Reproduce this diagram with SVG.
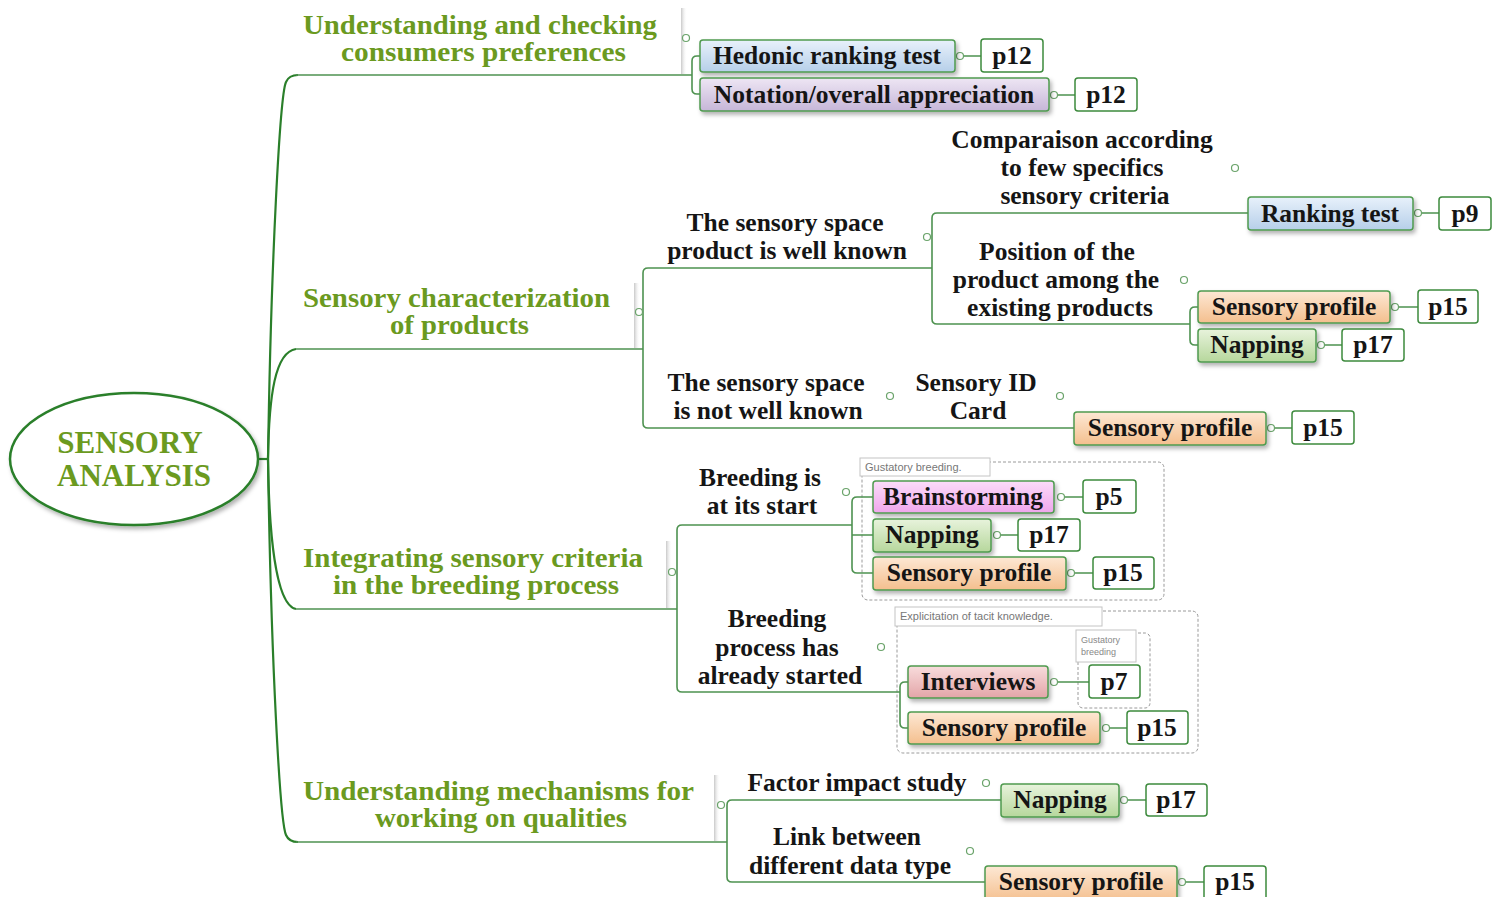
<svg xmlns="http://www.w3.org/2000/svg" width="1501" height="897" viewBox="0 0 1501 897">
<style>
.hd{font-family:"Liberation Serif",serif;font-weight:bold;font-size:27px;fill:#6b9a1f;text-anchor:middle}
.ct{font-family:"Liberation Serif",serif;font-weight:bold;font-size:31px;fill:#6b9a1f;text-anchor:middle}
.lb{font-family:"Liberation Serif",serif;font-weight:bold;font-size:25.5px;fill:#151515;text-anchor:middle}
.trunk{fill:none;stroke:#2a7f2a;stroke-width:2.2}
.conn{fill:none;stroke:#4e9250;stroke-width:1.6}
.dot{fill:#fff;stroke:#6aa36a;stroke-width:1.2}
.box{stroke:#4f9a4f;stroke-width:1.5;filter:url(#sh)}
.pbox{fill:#fff;stroke:#3d8a3d;stroke-width:1.5}
.grp{fill:none;stroke:#9a9a9a;stroke-width:1;stroke-dasharray:3 2}
.glab{fill:#fff;stroke:#c4c4c4;stroke-width:1}
.gt{font-family:"Liberation Sans",sans-serif;font-size:11px;fill:#777}
.gs{font-family:"Liberation Sans",sans-serif;font-size:9px;fill:#888}
.bar{fill:url(#barg)}
</style>
<defs>
<filter id="sh" x="-10%" y="-20%" width="130%" height="160%"><feDropShadow dx="2" dy="3" stdDeviation="2" flood-color="#000" flood-opacity="0.3"/></filter>
<linearGradient id="gBlue" x1="0" y1="0" x2="0" y2="1"><stop offset="0" stop-color="#e8f1fb"/><stop offset="1" stop-color="#b6cfe9"/></linearGradient>
<linearGradient id="gLav" x1="0" y1="0" x2="0" y2="1"><stop offset="0" stop-color="#eee6f4"/><stop offset="1" stop-color="#c6b6d8"/></linearGradient>
<linearGradient id="gOr" x1="0" y1="0" x2="0" y2="1"><stop offset="0" stop-color="#fde8d4"/><stop offset="1" stop-color="#f4bf8e"/></linearGradient>
<linearGradient id="gGr" x1="0" y1="0" x2="0" y2="1"><stop offset="0" stop-color="#e8f3dc"/><stop offset="1" stop-color="#b6d79c"/></linearGradient>
<linearGradient id="gPk" x1="0" y1="0" x2="0" y2="1"><stop offset="0" stop-color="#fbdcf9"/><stop offset="1" stop-color="#efa6ec"/></linearGradient>
<linearGradient id="gRd" x1="0" y1="0" x2="0" y2="1"><stop offset="0" stop-color="#f8dcdc"/><stop offset="1" stop-color="#e3a5a8"/></linearGradient>
<linearGradient id="barg" x1="0" y1="0" x2="1" y2="0"><stop offset="0" stop-color="#c8c8c8"/><stop offset="1" stop-color="#ffffff" stop-opacity="0"/></linearGradient>
</defs>

<!-- heading shadow bars -->
<g id="shadows">
<rect class="bar" x="681" y="8" width="6" height="66"/>
<rect class="bar" x="634" y="283" width="6" height="65"/>
<rect class="bar" x="666" y="541" width="6" height="67"/>
<rect class="bar" x="714" y="775" width="6" height="66"/>
</g>

<!-- dashed groups -->
<g id="group-gustatory">
<rect class="grp" x="862" y="462" width="302" height="138" rx="6"/>
<rect class="glab" x="860" y="458" width="130" height="18"/>
<text class="gt" x="865" y="471">Gustatory breeding.</text>
</g>
<g id="group-explicitation">
<rect class="grp" x="897" y="611" width="301" height="142" rx="6"/>
<rect class="glab" x="895" y="607" width="207" height="19"/>
<text class="gt" x="900" y="620">Explicitation of tacit knowledge.</text>
</g>
<g id="group-gustatory-2">
<rect class="grp" x="1078" y="633" width="72" height="75" rx="5"/>
<rect class="glab" x="1076" y="630" width="60" height="32"/>
<text class="gs" x="1081" y="643">Gustatory</text>
<text class="gs" x="1081" y="655">breeding</text>
</g>

<!-- connectors -->
<g id="connectors">
<path class="trunk" d="M258,459 H268"/>
<path class="trunk" d="M268,459 C271,260 280,95 286,82 Q289,75 298,75"/>
<path class="trunk" d="M268,459 C269,395 275,352 296,349"/>
<path class="trunk" d="M268,459 C269,530 275,605 296,609"/>
<path class="trunk" d="M268,459 C271,660 280,822 286,835 Q289,842 298,842"/>
<path class="conn" d="M296,75 H692"/>
<path class="conn" d="M700,56 H697 Q692,56 692,61 V89 Q692,94 697,94 H700"/>
<path class="conn" d="M296,349 H643"/>
<path class="conn" d="M932,268 H648 Q643,268 643,273 V423 Q643,428 648,428 H1074"/>
<path class="conn" d="M1248,213 H937 Q932,213 932,218 V319 Q932,324 937,324 H1190"/>
<path class="conn" d="M1198,307 H1195 Q1190,307 1190,312 V340 Q1190,345 1195,345 H1198"/>
<path class="conn" d="M296,609 H677"/>
<path class="conn" d="M852,525 H682 Q677,525 677,530 V687 Q677,692 682,692 H900"/>
<path class="conn" d="M873,497 H857 Q852,497 852,502 V568 Q852,573 857,573 H873 M852,535 H873"/>
<path class="conn" d="M908,682 H905 Q900,682 900,687 V723 Q900,728 905,728 H908"/>
<path class="conn" d="M296,842 H727"/>
<path class="conn" d="M1001,800 H732 Q727,800 727,805 V877 Q727,882 732,882 H985"/>
<!-- box to page links -->
<path class="conn" d="M964,56 H981 M1058,95 H1075 M1421,213 H1439 M1399,307 H1418 M1325,345 H1342 M1275,428 H1292 M1065,497 H1083 M1001,535 H1018 M1075,573 H1093 M1058,682 H1089 M1110,728 H1127 M1128,800 H1146 M1186,882 H1204"/>
<circle class="dot" cx="960" cy="56" r="3.5"/>
<circle class="dot" cx="1054" cy="95" r="3.5"/>
<circle class="dot" cx="1418" cy="213" r="3.5"/>
<circle class="dot" cx="1395" cy="307" r="3.5"/>
<circle class="dot" cx="1321" cy="345" r="3.5"/>
<circle class="dot" cx="1271" cy="428" r="3.5"/>
<circle class="dot" cx="1061" cy="497" r="3.5"/>
<circle class="dot" cx="997" cy="535" r="3.5"/>
<circle class="dot" cx="1071" cy="573" r="3.5"/>
<circle class="dot" cx="1054" cy="682" r="3.5"/>
<circle class="dot" cx="1106" cy="728" r="3.5"/>
<circle class="dot" cx="1124" cy="800" r="3.5"/>
<circle class="dot" cx="1182" cy="882" r="3.5"/>
<!-- label dots -->
<circle class="dot" cx="686" cy="38" r="3.5"/>
<circle class="dot" cx="639" cy="312" r="3.5"/>
<circle class="dot" cx="672" cy="572" r="3.5"/>
<circle class="dot" cx="721" cy="805" r="3.5"/>
<circle class="dot" cx="927" cy="237" r="3.5"/>
<circle class="dot" cx="1235" cy="168" r="3.5"/>
<circle class="dot" cx="1184" cy="280" r="3.5"/>
<circle class="dot" cx="890" cy="396" r="3.5"/>
<circle class="dot" cx="1060" cy="396" r="3.5"/>
<circle class="dot" cx="846" cy="492" r="3.5"/>
<circle class="dot" cx="881" cy="647" r="3.5"/>
<circle class="dot" cx="986" cy="783" r="3.5"/>
<circle class="dot" cx="970" cy="851" r="3.5"/>
</g>

<!-- central node -->
<g id="n-center">
<ellipse cx="134" cy="459" rx="124" ry="66" fill="#fff" stroke="#2a7f2a" stroke-width="2.5" filter="url(#sh)"/>
<text class="ct" x="130" y="453">SENSORY</text>
<text class="ct" x="134" y="486">ANALYSIS</text>
</g>

<!-- headings -->
<g id="n-h1"><text class="hd" x="480" y="34" textLength="354" lengthAdjust="spacingAndGlyphs">Understanding and checking</text><text class="hd" x="483.5" y="61" textLength="285" lengthAdjust="spacingAndGlyphs">consumers preferences</text></g>
<g id="n-h2"><text class="hd" x="456.5" y="307" textLength="307" lengthAdjust="spacingAndGlyphs">Sensory characterization</text><text class="hd" x="459.5" y="334" textLength="139" lengthAdjust="spacingAndGlyphs">of products</text></g>
<g id="n-h3"><text class="hd" x="473" y="567" textLength="340" lengthAdjust="spacingAndGlyphs">Integrating sensory criteria</text><text class="hd" x="476" y="594" textLength="286" lengthAdjust="spacingAndGlyphs">in the breeding process</text></g>
<g id="n-h4"><text class="hd" x="498.5" y="800" textLength="391" lengthAdjust="spacingAndGlyphs">Understanding mechanisms for</text><text class="hd" x="501" y="827" textLength="252" lengthAdjust="spacingAndGlyphs">working on qualities</text></g>

<!-- labels -->
<g id="n-comparaison"><text class="lb" x="1082" y="148">Comparaison according</text><text class="lb" x="1082" y="176">to few specifics</text><text class="lb" x="1085" y="204">sensory criteria</text></g>
<g id="n-wellknown"><text class="lb" x="785" y="231">The sensory space</text><text class="lb" x="787" y="259">product is well known</text></g>
<g id="n-position"><text class="lb" x="1057" y="260">Position of the</text><text class="lb" x="1056" y="288">product among the</text><text class="lb" x="1060" y="316">existing products</text></g>
<g id="n-notwell"><text class="lb" x="766" y="391">The sensory space</text><text class="lb" x="768" y="419">is not well known</text></g>
<g id="n-idcard"><text class="lb" x="976" y="391">Sensory ID</text><text class="lb" x="978" y="419">Card</text></g>
<g id="n-start"><text class="lb" x="760" y="486">Breeding is</text><text class="lb" x="762" y="514">at its start</text></g>
<g id="n-started"><text class="lb" x="777" y="627">Breeding</text><text class="lb" x="777" y="656">process has</text><text class="lb" x="780" y="684">already started</text></g>
<g id="n-factor"><text class="lb" x="857" y="791">Factor impact study</text></g>
<g id="n-link"><text class="lb" x="847" y="845">Link between</text><text class="lb" x="850" y="874">different data type</text></g>

<!-- method boxes -->
<g id="n-hedonic"><rect class="box" x="700" y="40" width="255" height="32" rx="3" fill="url(#gBlue)"/><text class="lb" x="827" y="64">Hedonic ranking test</text></g>
<g id="n-p12a"><rect class="pbox" x="981" y="39" width="62" height="33" rx="3"/><text class="lb" x="1012" y="64">p12</text></g>
<g id="n-notation"><rect class="box" x="700" y="78" width="349" height="33" rx="3" fill="url(#gLav)"/><text class="lb" x="874" y="103">Notation/overall appreciation</text></g>
<g id="n-p12b"><rect class="pbox" x="1075" y="78" width="62" height="33" rx="3"/><text class="lb" x="1106" y="103">p12</text></g>
<g id="n-ranking"><rect class="box" x="1248" y="197" width="165" height="33" rx="3" fill="url(#gBlue)"/><text class="lb" x="1330" y="222">Ranking test</text></g>
<g id="n-p9"><rect class="pbox" x="1439" y="197" width="52" height="33" rx="3"/><text class="lb" x="1465" y="222">p9</text></g>
<g id="n-sp1"><rect class="box" x="1198" y="291" width="192" height="32" rx="3" fill="url(#gOr)"/><text class="lb" x="1294" y="315">Sensory profile</text></g>
<g id="n-p15a"><rect class="pbox" x="1418" y="290" width="60" height="33" rx="3"/><text class="lb" x="1448" y="315">p15</text></g>
<g id="n-nap1"><rect class="box" x="1198" y="329" width="118" height="33" rx="3" fill="url(#gGr)"/><text class="lb" x="1257" y="353">Napping</text></g>
<g id="n-p17a"><rect class="pbox" x="1342" y="329" width="62" height="32" rx="3"/><text class="lb" x="1373" y="353">p17</text></g>
<g id="n-sp2"><rect class="box" x="1074" y="412" width="192" height="33" rx="3" fill="url(#gOr)"/><text class="lb" x="1170" y="436">Sensory profile</text></g>
<g id="n-p15b"><rect class="pbox" x="1292" y="411" width="62" height="33" rx="3"/><text class="lb" x="1323" y="436">p15</text></g>
<g id="n-brain"><rect class="box" x="873" y="481" width="181" height="32" rx="3" fill="url(#gPk)"/><text class="lb" x="963" y="505">Brainstorming</text></g>
<g id="n-p5"><rect class="pbox" x="1083" y="480" width="53" height="33" rx="3"/><text class="lb" x="1109" y="505">p5</text></g>
<g id="n-nap2"><rect class="box" x="873" y="519" width="118" height="33" rx="3" fill="url(#gGr)"/><text class="lb" x="932" y="543">Napping</text></g>
<g id="n-p17b"><rect class="pbox" x="1018" y="519" width="62" height="32" rx="3"/><text class="lb" x="1049" y="543">p17</text></g>
<g id="n-sp3"><rect class="box" x="873" y="557" width="193" height="33" rx="3" fill="url(#gOr)"/><text class="lb" x="969" y="581">Sensory profile</text></g>
<g id="n-p15c"><rect class="pbox" x="1093" y="557" width="61" height="32" rx="3"/><text class="lb" x="1123" y="581">p15</text></g>
<g id="n-interviews"><rect class="box" x="908" y="666" width="140" height="32" rx="3" fill="url(#gRd)"/><text class="lb" x="978" y="690">Interviews</text></g>
<g id="n-p7"><rect class="pbox" x="1089" y="665" width="51" height="33" rx="3"/><text class="lb" x="1114" y="690">p7</text></g>
<g id="n-sp4"><rect class="box" x="908" y="712" width="192" height="32" rx="3" fill="url(#gOr)"/><text class="lb" x="1004" y="736">Sensory profile</text></g>
<g id="n-p15d"><rect class="pbox" x="1127" y="711" width="61" height="33" rx="3"/><text class="lb" x="1157" y="736">p15</text></g>
<g id="n-nap3"><rect class="box" x="1001" y="784" width="118" height="33" rx="3" fill="url(#gGr)"/><text class="lb" x="1060" y="808">Napping</text></g>
<g id="n-p17c"><rect class="pbox" x="1146" y="784" width="61" height="32" rx="3"/><text class="lb" x="1176" y="808">p17</text></g>
<g id="n-sp5"><rect class="box" x="985" y="866" width="192" height="36" rx="3" fill="url(#gOr)"/><text class="lb" x="1081" y="890">Sensory profile</text></g>
<g id="n-p15e"><rect class="pbox" x="1204" y="866" width="62" height="36" rx="3"/><text class="lb" x="1235" y="890">p15</text></g>
</svg>
